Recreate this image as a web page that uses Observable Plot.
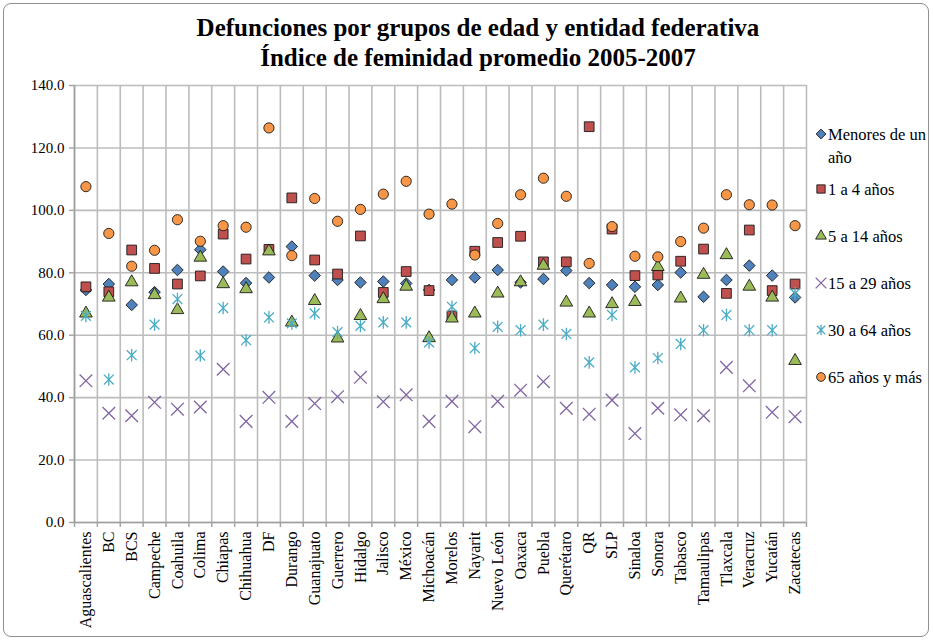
<!DOCTYPE html>
<html>
<head>
<meta charset="utf-8">
<script src="https://cdn.jsdelivr.net/npm/d3@7"></script>
<script src="https://cdn.jsdelivr.net/npm/@observablehq/plot@0.6"></script>
<style>
  body { margin: 0; background: #fff; }
  #wrap { position: relative; width: 933px; height: 641px; overflow: hidden; font-family: "Liberation Serif", "Times New Roman", serif; color: #000; }
  #frame { position: absolute; left: 3px; top: 3px; width: 926px; height: 634px; border: 1px solid #8f8f8f; border-radius: 8px; box-sizing: border-box; pointer-events: none; }
  #chart { position: absolute; left: 0; top: 0; }
  #chart svg, #chart svg text { font-family: "Liberation Serif", "Times New Roman", serif; }
  #title { position: absolute; left: 78px; width: 800px; top: 13px; text-align: center; font-weight: bold; font-size: 25px; line-height: 30px; }
  .lg-icon { position: absolute; left: 814px; }
  .lg-text { position: absolute; left: 828px; width: 106px; font-size: 16.5px; line-height: 23px; }
</style>
</head>
<body>
<div id="wrap">
  <div id="chart"></div>
  <div id="title">Defunciones por grupos de edad y entidad federativa<br>Índice de feminidad promedio 2005-2007</div>
  <div id="legend"></div>
  <div id="frame"></div>
</div>
<script>
const states = ["Aguascalientes","BC","BCS","Campeche","Coahuila","Colima","Chiapas","Chihuahua","DF","Durango","Guanajuato","Guerrero","Hidalgo","Jalisco","México","Michoacán","Morelos","Nayarit","Nuevo León","Oaxaca","Puebla","Querétaro","QR","SLP","Sinaloa","Sonora","Tabasco","Tamaulipas","Tlaxcala","Veracruz","Yucatán","Zacatecas"];

const menoresUnAno = [74.5,76.4,69.7,73.8,80.9,87.4,80.4,76.7,78.5,88.4,79.1,77.7,76.9,77.2,76.6,74.5,77.7,78.5,80.9,76.9,78.0,80.7,76.7,76.1,75.5,76.1,80.1,72.3,77.7,82.3,79.1,72.1];
const de1a4 = [75.5,73.9,87.3,81.4,76.4,79.0,92.4,84.4,87.5,104.0,84.1,79.6,91.8,73.7,80.4,74.3,66.2,86.9,89.7,91.7,83.5,83.5,126.8,94.0,79.1,79.3,83.7,87.6,73.4,93.7,74.3,76.4];
const de5a14 = [67.0,72.1,77.0,72.9,68.1,84.9,76.4,74.8,86.9,64.1,71.0,59.0,66.2,71.6,75.6,59.1,65.4,67.0,73.4,77.0,82.3,70.5,67.0,70.0,70.7,81.9,71.8,79.4,85.7,75.6,72.1,51.8];
const de15a29 = [45.4,35.0,34.2,38.5,36.3,37.0,49.1,32.4,40.1,32.4,38.1,40.3,46.5,38.7,40.9,32.4,38.8,30.7,38.8,42.4,45.1,36.6,34.7,39.2,28.5,36.6,34.5,34.2,49.7,43.8,35.3,33.9];
const de30a64 = [66.2,45.8,53.6,63.4,71.6,53.5,68.7,58.4,65.7,63.8,67.0,61.0,63.0,64.1,64.1,57.7,69.1,55.9,62.7,61.6,63.4,60.4,51.3,66.5,49.7,52.7,57.2,61.6,66.5,61.6,61.6,73.4];
const de65ymas = [107.6,92.6,82.1,87.2,97.0,90.1,95.1,94.6,126.4,85.5,103.8,96.5,100.3,105.2,109.3,98.8,102.0,85.7,95.8,105.0,110.3,104.5,83.0,94.8,85.3,85.1,90.0,94.3,105.0,101.8,101.7,95.1];

const seriesNames = ["Menores de un año","1 a 4 años","5 a 14 años","15 a 29 años","30 a 64 años","65 años y más"];
const yTicks = [0,20,40,60,80,100,120,140];

// Excel-like asterisk marker (X plus vertical bar)
const asteriskX = {
  draw(ctx, size) {
    const r = Math.sqrt(size / Math.PI);
    const a = r * 0.78;
    ctx.moveTo(-a, -a); ctx.lineTo(a, a);
    ctx.moveTo(-a, a); ctx.lineTo(a, -a);
    ctx.moveTo(0, -r); ctx.lineTo(0, r);
  }
};

const styles = [
  {symbol: "diamond2", fill: "#4F81BD", stroke: "#1a1a1a", r: 5.2, sw: 0.9},
  {symbol: "square",   fill: "#C0504D", stroke: "#1a1a1a", r: 5.5, sw: 0.9},
  {symbol: "triangle", fill: "#9BBB59", stroke: "#1a1a1a", r: 4.7, sw: 0.9},
  {symbol: "times",    fill: "none",    stroke: "#8064A2", r: 5.8, sw: 1.3},
  {symbol: asteriskX,  fill: "none",    stroke: "#4BACC6", r: 6.3, sw: 1.3},
  {symbol: "circle",   fill: "#F79646", stroke: "#1a1a1a", r: 5.1, sw: 0.9}
];
const allValues = [menoresUnAno, de1a4, de5a14, de15a29, de30a64, de65ymas];

const idx = d3.range(states.length);
const centers = idx.map(i => i + 0.5);
const bounds = d3.range(states.length + 1);

const dotMarks = allValues.map((vals, s) => {
  const st = styles[s];
  const data = idx.map(i => ({x: i + 0.5, v: vals[i]}));
  return Plot.dot(data, {
    x: "x", y: "v", symbol: st.symbol, r: st.r,
    fill: st.fill, stroke: st.stroke, strokeWidth: st.sw
  });
});

const chart = Plot.plot({
  width: 933, height: 641,
  marginLeft: 74, marginRight: 127, marginTop: 85, marginBottom: 119,
  style: {background: "transparent", fontFamily: "'Liberation Serif', 'Times New Roman', serif", color: "#000"},
  x: {domain: [0, states.length], axis: null},
  y: {domain: [0, 140], axis: null},
  marks: [
    Plot.gridY(yTicks, {stroke: "#bcbcbc", strokeOpacity: 1, strokeWidth: 1.6}),
    Plot.gridX(bounds, {stroke: "#bcbcbc", strokeOpacity: 1, strokeWidth: 1.6}),
    Plot.ruleX([0], {stroke: "#a0a0a0", strokeWidth: 1.6}),
    Plot.ruleY([0], {stroke: "#a0a0a0", strokeWidth: 1.6}),
    Plot.axisY(yTicks, {tickSize: 5, tickPadding: 5, stroke: "#a0a0a0", strokeWidth: 1.4, tickFormat: d => d.toFixed(1), fontSize: 15, label: null}),
    Plot.axisX(bounds, {tickSize: 5, stroke: "#a0a0a0", strokeWidth: 1.4, tickFormat: () => "", label: null}),
    Plot.axisX(centers, {tickSize: 0, tickPadding: 9, tickRotate: -90, tickFormat: d => states[Math.floor(d)], fontSize: 16, label: null}),
    ...dotMarks
  ]
});
document.getElementById("chart").appendChild(chart);

// Legend
const legendCenters = [134, 189, 236, 283, 330, 377];
const legend = document.getElementById("legend");
const symMap = {diamond2: d3.symbolDiamond2, square: d3.symbolSquare, triangle: d3.symbolTriangle, times: d3.symbolTimes, circle: d3.symbolCircle};
seriesNames.forEach((name, s) => {
  const st = styles[s];
  const cy = legendCenters[s];
  const svg = d3.create("svg").attr("class", "lg-icon").attr("width", 14).attr("height", 14)
    .style("top", (cy - 7) + "px");
  const type = typeof st.symbol === "string" ? symMap[st.symbol] : st.symbol;
  svg.append("path")
    .attr("transform", "translate(7,7)")
    .attr("d", d3.symbol(type, Math.PI * (st.r * 0.85) ** 2)())
    .attr("fill", st.fill).attr("stroke", st.stroke).attr("stroke-width", st.sw);
  legend.appendChild(svg.node());
  const t = document.createElement("div");
  t.className = "lg-text";
  t.style.top = (cy - 11.5) + "px";
  t.textContent = name;
  legend.appendChild(t);
});
</script>
</body>
</html>
